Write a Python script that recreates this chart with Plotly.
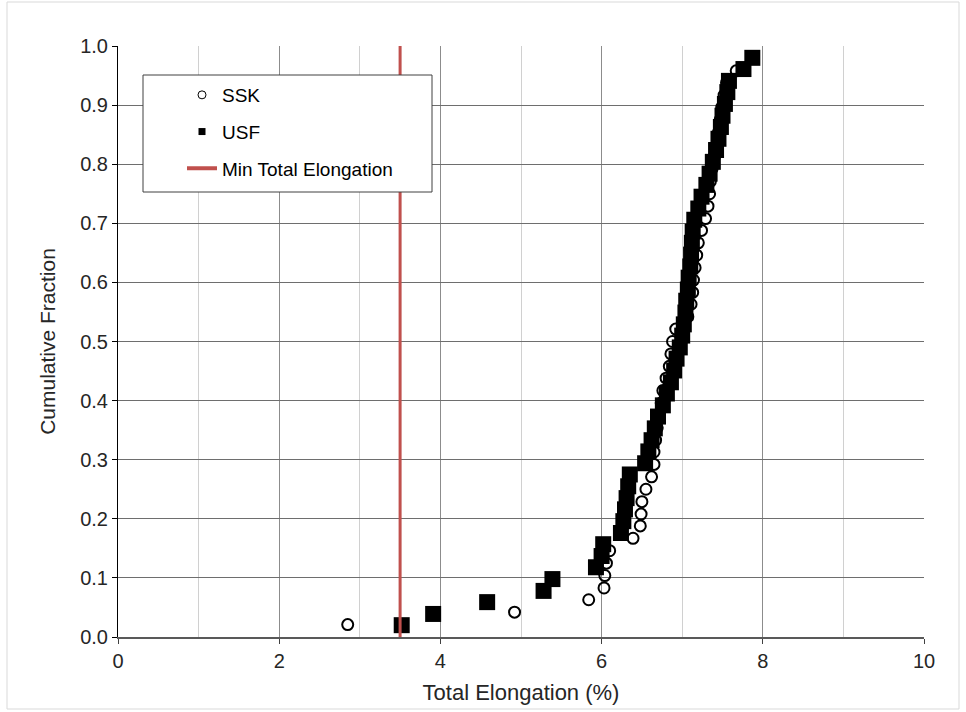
import plotly.graph_objects as go

# Total elongation (%) and cumulative fraction, SSK specimens
ssk_elong = [2.85, 4.92, 5.84, 6.03, 6.04, 6.06, 6.10, 6.39, 6.48, 6.49,
             6.50, 6.55, 6.62, 6.65, 6.65, 6.67, 6.69, 6.71, 6.74, 6.76,
             6.80, 6.84, 6.86, 6.88, 6.92, 7.07, 7.11, 7.13, 7.14, 7.16,
             7.18, 7.20, 7.24, 7.29, 7.32, 7.34, 7.35, 7.37, 7.40, 7.43,
             7.45, 7.47, 7.49, 7.52, 7.55, 7.67, 7.88]
ssk_frac = [0.021, 0.042, 0.063, 0.083, 0.104, 0.125, 0.146, 0.167, 0.188, 0.208,
            0.229, 0.250, 0.271, 0.292, 0.313, 0.333, 0.354, 0.375, 0.396, 0.417,
            0.438, 0.458, 0.479, 0.500, 0.521, 0.542, 0.563, 0.583, 0.604, 0.625,
            0.646, 0.667, 0.688, 0.708, 0.729, 0.750, 0.771, 0.792, 0.813, 0.833,
            0.854, 0.875, 0.896, 0.917, 0.938, 0.958, 0.979]

# Total elongation (%) and cumulative fraction, USF specimens
usf_elong = [3.52, 3.91, 4.58, 5.28, 5.39, 5.93, 6.00, 6.02, 6.24, 6.27,
             6.29, 6.31, 6.33, 6.35, 6.54, 6.58, 6.62, 6.66, 6.70, 6.76,
             6.81, 6.86, 6.90, 6.93, 6.97, 7.00, 7.02, 7.04, 7.05, 7.07,
             7.08, 7.10, 7.11, 7.12, 7.13, 7.15, 7.20, 7.24, 7.30, 7.34,
             7.38, 7.42, 7.45, 7.48, 7.50, 7.53, 7.56, 7.58, 7.76, 7.87]
usf_frac = [0.020, 0.039, 0.059, 0.078, 0.098, 0.118, 0.137, 0.157, 0.176, 0.196,
            0.216, 0.235, 0.255, 0.275, 0.294, 0.314, 0.333, 0.353, 0.373, 0.392,
            0.412, 0.431, 0.451, 0.471, 0.490, 0.510, 0.529, 0.549, 0.569, 0.588,
            0.608, 0.627, 0.647, 0.667, 0.686, 0.706, 0.725, 0.745, 0.765, 0.784,
            0.804, 0.824, 0.843, 0.863, 0.882, 0.902, 0.922, 0.941, 0.961, 0.980]

# Minimum total elongation requirement (%)
min_elong = 3.5
limit_frac = [0.0, 1.0]

x_ticks = [0, 2, 4, 6, 8, 10]
y_ticks = [0.0, 0.1, 0.2, 0.3, 0.4, 0.5, 0.6, 0.7, 0.8, 0.9, 1.0]

RED = "#C0504D"
FONT = "Arial, Liberation Sans, sans-serif"
TXT = "#262626"

fig = go.Figure()

# data markers (squares drawn after circles so they sit on top)
fig.add_trace(go.Scatter(
    x=ssk_elong, y=ssk_frac, mode="markers", showlegend=False,
    marker=dict(symbol="circle-open", size=11, color="black", line=dict(width=2, color="black")),
))
fig.add_trace(go.Scatter(
    x=usf_elong, y=usf_frac, mode="markers", showlegend=False,
    marker=dict(symbol="square", size=16, color="black"),
))
fig.add_trace(go.Scatter(
    x=[min_elong, min_elong], y=limit_frac, mode="lines", showlegend=False,
    line=dict(color=RED, width=3),
))

# legend entries with smaller symbols
fig.add_trace(go.Scatter(
    x=[None], y=[None], mode="markers", name="SSK", legendgroup="a",
    marker=dict(symbol="circle-open", size=8, color="black", line=dict(width=1, color="black")),
))
fig.add_trace(go.Scatter(
    x=[None], y=[None], mode="markers", name="USF", legendgroup="b",
    marker=dict(symbol="square", size=7, color="black"),
))
fig.add_trace(go.Scatter(
    x=[None], y=[None], mode="lines", name="Min Total Elongation", legendgroup="c",
    line=dict(color=RED, width=4),
))

shapes = [
    # legend box
    dict(type="rect", xref="paper", yref="paper",
         x0=(143 - 118) / 806, x1=(432 - 118) / 806,
         y0=(637 - 192) / 591, y1=(637 - 75) / 591,
         line=dict(color="#404040", width=1), fillcolor="white", layer="above"),
    # chart area border
    dict(type="rect", xref="paper", yref="paper",
         x0=(7 - 118) / 806, x1=(959 - 118) / 806,
         y0=(637 - 709) / 591, y1=(637 - 2) / 591,
         line=dict(color="#d9d9d9", width=1), fillcolor="rgba(0,0,0,0)", layer="below"),
]

fig.update_layout(
    width=966, height=712,
    margin=dict(l=118, r=42, t=46, b=75),
    paper_bgcolor="white", plot_bgcolor="white",
    font=dict(family=FONT, size=20, color=TXT),
    shapes=shapes,
    showlegend=True,
    legend=dict(
        x=(182 - 118) / 806, y=(637 - 76) / 591, xanchor="left", yanchor="top",
        bgcolor="rgba(0,0,0,0)", borderwidth=0,
        font=dict(family=FONT, size=19, color="black"),
        tracegroupgap=9, traceorder="grouped",
    ),
    xaxis=dict(
        range=[0, 10], tickvals=x_ticks, ticktext=[str(v) for v in x_ticks],
        showgrid=True, gridcolor="#8c8c8c", gridwidth=1,
        minor=dict(dtick=1, showgrid=True, gridcolor="#d0d0d0", gridwidth=1),
        showline=True, linecolor="#595959", linewidth=2, mirror=False,
        ticks="outside", ticklen=5, tickcolor="#404040",
        zeroline=False,
        title=dict(text="Total Elongation (%)", font=dict(size=22, color=TXT), standoff=14),
        tickfont=dict(size=20, color=TXT),
    ),
    yaxis=dict(
        range=[0, 1], tickvals=y_ticks, ticktext=[f"{v:.1f}" for v in y_ticks],
        showgrid=True, gridcolor="#6e6e6e", gridwidth=1,
        showline=True, linecolor="black", linewidth=1,
        ticks="outside", ticklen=5, tickcolor="black",
        zeroline=False,
        title=dict(text="Cumulative Fraction", font=dict(size=21, color=TXT), standoff=18),
        tickfont=dict(size=20, color=TXT),
    ),
)

fig.write_html("out.html")
